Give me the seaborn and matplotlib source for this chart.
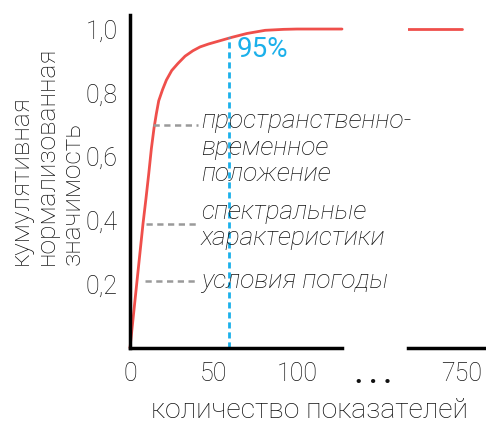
import matplotlib
matplotlib.use("Agg")
import matplotlib.pyplot as plt
import seaborn as sns
import pandas as pd

# ---- data ----
n_features = [0, 2, 4, 6, 7.8, 9.6, 11.2, 12.8, 14.4, 15.8, 17.2, 19.5, 21.8, 25, 28.7,
              33, 37.7, 42, 47, 53, 61, 70, 81, 92, 100, 127]
cum_importance = [0, 0.10, 0.20, 0.30, 0.39, 0.47, 0.545, 0.625, 0.69, 0.735, 0.775, 0.81,
                  0.84, 0.87, 0.892, 0.915, 0.932, 0.944, 0.953, 0.962, 0.974, 0.986,
                  0.996, 0.999, 1.0, 1.0]
tail_features = [700, 750]
tail_importance = [1.0, 1.0]

cutoff_x = 59.5
cutoff_label = "95%"

groups = ["пространственно-\nвременное\nположение", "спектральные\nхарактеристики", "условия погоды"]
group_levels = [0.70, 0.389, 0.21]
group_start = [14, 9.6, 9]
group_label_y = [0.628, 0.386, 0.21]

yticks = [0.2, 0.4, 0.6, 0.8, 1.0]
ytick_labels = ["0,2", "0,4", "0,6", "0,8", "1,0"]
xticks_left = [0, 50, 100]
xticks_right = [750]

sns.set_theme(style="white")
plt.rcParams["font.family"] = ["Roboto", "DejaVu Sans"]
plt.rcParams["font.weight"] = "light"

W, H = 486, 425
fig = plt.figure(figsize=(W / 100, H / 100), dpi=100)

def fx(px):
    return px / W

def fy(py):
    return 1 - py / H

bottom_px, top_px = 348, 15
ax1 = fig.add_axes([fx(130), fy(bottom_px), (342 - 130) / W, (bottom_px - top_px) / H])
ax2 = fig.add_axes([fx(408), fy(bottom_px), (486 - 408) / W, (bottom_px - top_px) / H])

red = "#ef4f4b"
blue = "#1bb0ea"
grey = "#9a9a9a"
ink = "#111111"

df = pd.DataFrame({"x": n_features, "y": cum_importance})
df2 = pd.DataFrame({"x": tail_features, "y": tail_importance})
sns.lineplot(data=df, x="x", y="y", ax=ax1, color=red, lw=2, clip_on=False)
sns.lineplot(data=df2, x="x", y="y", ax=ax2, color=red, lw=2)

ymax = 1.044
ax1.set_xlim(0, 127)
ax1.set_ylim(0, ymax)
ax2.set_xlim(717.7, 764.4)
ax2.set_ylim(0, ymax)

# cutoff line
ax1.plot([cutoff_x, cutoff_x], [0, 0.975], color=blue, lw=2, ls=(0, (2.2, 1.4)))
ax1.text(cutoff_x + 4.5, 0.937, cutoff_label, color=blue, fontsize=20,
         ha="left", va="center", fontweight="normal")

for lab, lvl, xs, ly in zip(groups, group_levels, group_start, group_label_y):
    ax1.plot([xs, 41], [lvl, lvl], color=grey, lw=1.8, ls=(0, (2.5, 1.8)))
    ax1.text(42.5, ly, lab, fontsize=19, style="italic", ha="left", va="center",
             color=ink, fontweight="light", linespacing=1.12)

for ax in (ax1, ax2):
    ax.set_xlabel("")
    ax.set_ylabel("")
    for s in ("top", "right"):
        ax.spines[s].set_visible(False)
    ax.spines["bottom"].set_color("black")
    ax.spines["bottom"].set_linewidth(2.5)
    ax.tick_params(length=0, labelsize=18, colors=ink)
    ax.patch.set_alpha(0)

ax1.spines["left"].set_color("black")
ax1.spines["left"].set_linewidth(2.5)
ax2.spines["left"].set_visible(False)

ax1.set_yticks(yticks)
ax1.set_yticklabels(ytick_labels)
ax1.set_xticks(xticks_left)
ax1.set_xticklabels([str(v) for v in xticks_left])
ax2.set_yticks([])
ax2.set_xticks(xticks_right)
ax2.set_xticklabels([str(v) for v in xticks_right])
ax1.tick_params(axis="y", pad=9)
ax1.tick_params(axis="x", pad=10)
ax2.tick_params(axis="x", pad=10)

fig.text(fx(373), fy(383), ". . .", fontsize=19, ha="center", va="baseline", color=ink,
         fontweight="bold")
fig.text(fx(309), fy(410), "количество показателей", fontsize=20.3, ha="center", va="center",
         color=ink)
fig.text(fx(47), fy(156), "кумулятивная\nнормализованная\nзначимость", fontsize=19,
         rotation=90, ha="center", va="center", multialignment="left", color=ink,
         linespacing=1.1)

fig.savefig("out.png", dpi=100)
